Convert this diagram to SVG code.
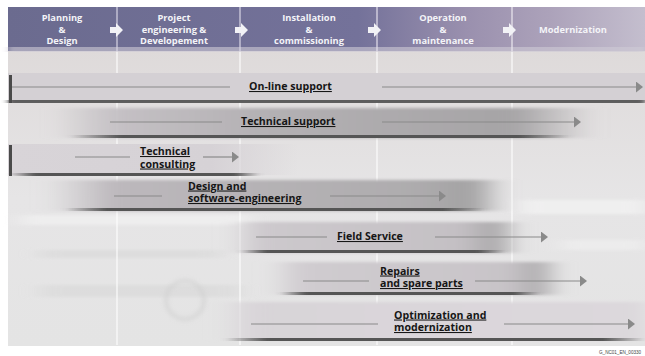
<svg xmlns="http://www.w3.org/2000/svg" width="645" height="356" viewBox="0 0 645 356">
<defs>
<style>
.hd{font-family:"Open Sans","Liberation Sans",sans-serif;font-weight:700;font-size:9.3px;fill:#f4f4f8;text-anchor:middle}
.lb{font-family:"Open Sans","Liberation Sans",sans-serif;font-weight:700;font-size:10.6px;fill:#161616;text-decoration:underline}
.ln{stroke:#8a8a8a;stroke-width:1.2;fill:none}
.ar{stroke:#8a8a8a;stroke-width:1.2;fill:none;marker-end:url(#ah)}
.edge{fill:#4a4a4a}
.vl{stroke:#ffffff;stroke-width:2;opacity:0.55}
.harr{fill:#f2f2f6}
.ft{font-family:"Liberation Sans",sans-serif;font-size:4.6px;fill:#444}
</style>
<marker id="ah" markerWidth="8" markerHeight="11" refX="1" refY="5.5" orient="auto" markerUnits="userSpaceOnUse">
<path d="M0,0 L7,5.5 L0,11 Z" fill="#8a8a8a"/>
</marker>
<filter id="bh" x="-20%" y="-50%" width="140%" height="200%"><feGaussianBlur stdDeviation="10 1.5"/></filter>
<filter id="bs" x="-10%" y="-50%" width="120%" height="200%"><feGaussianBlur stdDeviation="3 0.7"/></filter>
<filter id="bw" x="-30%" y="-30%" width="160%" height="160%"><feGaussianBlur stdDeviation="2"/></filter>
<linearGradient id="hdr" x1="0" y1="0" x2="1" y2="0">
<stop offset="0" stop-color="#6b6b8f"/>
<stop offset="0.55" stop-color="#74729a"/>
<stop offset="0.72" stop-color="#9a90ae"/>
<stop offset="0.85" stop-color="#aca2ba"/>
<stop offset="1" stop-color="#c4bece"/>
</linearGradient>
<linearGradient id="bg" x1="0" y1="0" x2="0" y2="1">
<stop offset="0" stop-color="#dedada"/>
<stop offset="0.5" stop-color="#e6e5e6"/>
<stop offset="1" stop-color="#e4e4e4"/>
</linearGradient>
<linearGradient id="g2" x1="0" y1="0" x2="1" y2="0">
<stop offset="0" stop-color="#bdb9bd" stop-opacity="0"/>
<stop offset="0.12" stop-color="#c4c0c4"/>
<stop offset="0.4" stop-color="#b3b0b3"/>
<stop offset="0.85" stop-color="#a6a4a6"/>
<stop offset="1" stop-color="#a6a4a6" stop-opacity="0"/>
</linearGradient>
<linearGradient id="g3" x1="0" y1="0" x2="1" y2="0">
<stop offset="0" stop-color="#d8d4d8"/>
<stop offset="0.7" stop-color="#d6d2d6"/>
<stop offset="1" stop-color="#d6d2d6" stop-opacity="0"/>
</linearGradient>
<linearGradient id="g4" x1="0" y1="0" x2="1" y2="0">
<stop offset="0" stop-color="#c2bec2" stop-opacity="0"/>
<stop offset="0.15" stop-color="#bcb8bc"/>
<stop offset="0.8" stop-color="#aeacae"/>
<stop offset="0.93" stop-color="#a3a2a3"/>
<stop offset="1" stop-color="#a3a2a3" stop-opacity="0"/>
</linearGradient>
<linearGradient id="g5" x1="0" y1="0" x2="1" y2="0">
<stop offset="0" stop-color="#cfcbcf" stop-opacity="0"/>
<stop offset="0.1" stop-color="#cdc9cd"/>
<stop offset="0.8" stop-color="#c4c0c4"/>
<stop offset="0.92" stop-color="#a9a7a9"/>
<stop offset="1" stop-color="#a9a7a9" stop-opacity="0"/>
</linearGradient>
<linearGradient id="g6" x1="0" y1="0" x2="1" y2="0">
<stop offset="0" stop-color="#d2ced2" stop-opacity="0"/>
<stop offset="0.1" stop-color="#d0ccd0"/>
<stop offset="0.82" stop-color="#c8c4c8"/>
<stop offset="0.93" stop-color="#aeacae"/>
<stop offset="1" stop-color="#aeacae" stop-opacity="0"/>
</linearGradient>
<linearGradient id="g7" x1="0" y1="0" x2="1" y2="0">
<stop offset="0" stop-color="#d8d4d8" stop-opacity="0"/>
<stop offset="0.08" stop-color="#d8d4d8"/>
<stop offset="1" stop-color="#dcd8dc"/>
</linearGradient>
<linearGradient id="sh" x1="0" y1="0" x2="1" y2="0">
<stop offset="0" stop-color="#555" stop-opacity="0"/>
<stop offset="0.1" stop-color="#555"/>
<stop offset="0.9" stop-color="#555"/>
<stop offset="1" stop-color="#555" stop-opacity="0"/>
</linearGradient>
</defs>

<!-- background -->
<rect x="0" y="0" width="645" height="356" fill="#ffffff"/>
<rect x="8" y="50" width="637" height="296" fill="url(#bg)"/>
<g filter="url(#bh)" opacity="0.7">
<rect x="20" y="215" width="230" height="10" fill="#f2f2f2"/>
<rect x="40" y="250" width="180" height="8" fill="#dadada"/>
<rect x="40" y="285" width="200" height="12" fill="#dadada"/>
<rect x="520" y="200" width="125" height="14" fill="#f4f4f4"/>
<rect x="560" y="240" width="85" height="10" fill="#f0f0f0"/>
</g>
<circle cx="185" cy="300" r="19" fill="none" stroke="#cfcfcf" stroke-width="4" filter="url(#bw)" opacity="0.6"/>
<g>
<line class="vl" x1="117" y1="50" x2="117" y2="345"/>
<line class="vl" x1="240" y1="50" x2="240" y2="345"/>
<line class="vl" x1="377" y1="50" x2="377" y2="345"/>
<line class="vl" x1="512" y1="50" x2="512" y2="345"/>
</g>

<!-- header -->
<g id="header">
<rect x="8" y="7" width="637" height="44" fill="url(#hdr)"/>
<rect x="8" y="47" width="637" height="5" fill="#cfcbd6" opacity="0.6" filter="url(#bs)"/>
<line x1="117" y1="7" x2="117" y2="51" stroke="#d8d6e4" stroke-width="1.5" opacity="0.8"/>
<line x1="240" y1="7" x2="240" y2="51" stroke="#d8d6e4" stroke-width="1.5" opacity="0.8"/>
<line x1="377" y1="7" x2="377" y2="51" stroke="#e4e0ec" stroke-width="1.5" opacity="0.8"/>
<line x1="512" y1="7" x2="512" y2="51" stroke="#ece8f0" stroke-width="1.5" opacity="0.8"/>
<path class="harr" d="M110,27 h6 v-4 l7,7 l-7,7 v-4 h-6 z"/>
<path class="harr" d="M235,27 h6 v-4 l7,7 l-7,7 v-4 h-6 z"/>
<path class="harr" d="M368,27 h6 v-4 l7,7 l-7,7 v-4 h-6 z"/>
<path class="harr" d="M503,27 h6 v-4 l7,7 l-7,7 v-4 h-6 z"/>
<g id="phase-planning"><text class="hd" x="62" y="21">Planning</text><text class="hd" x="62" y="32.5">&amp;</text><text class="hd" x="62" y="44">Design</text></g>
<g id="phase-project"><text class="hd" x="174" y="21">Project</text><text class="hd" x="174" y="32.5">engineering &amp;</text><text class="hd" x="174" y="44">Developement</text></g>
<g id="phase-installation"><text class="hd" x="309" y="21">Installation</text><text class="hd" x="309" y="32.5">&amp;</text><text class="hd" x="309" y="44">commissioning</text></g>
<g id="phase-operation"><text class="hd" x="443" y="21">Operation</text><text class="hd" x="443" y="32.5">&amp;</text><text class="hd" x="443" y="44">maintenance</text></g>
<g id="phase-modernization"><text class="hd" x="573" y="33">Modernization</text></g>
</g>

<!-- bars -->
<g id="online-support">
<rect x="8" y="73" width="637" height="29" fill="#d4d0d4"/>
<rect x="8" y="100" width="637" height="3" class="edge" opacity="0.85" filter="url(#bs)"/>
<rect x="9" y="75" width="3" height="28" class="edge"/>
<text class="lb" x="249" y="90">On-line support</text>
</g>
<g id="technical-support">
<rect x="55" y="108" width="540" height="30" fill="url(#g2)" filter="url(#bh)"/>
<rect x="70" y="135" width="500" height="3" fill="url(#sh)" filter="url(#bs)"/>
<text class="lb" x="241" y="125">Technical support</text>
</g>
<g id="technical-consulting">
<rect x="8" y="144" width="290" height="31" fill="url(#g3)"/>
<rect x="10" y="173" width="250" height="3" fill="url(#sh)" filter="url(#bs)"/>
<rect x="9" y="145" width="3" height="31" class="edge"/>
<text class="lb" x="140" y="155">Technical</text>
<text class="lb" x="140" y="167.5">consulting</text>
</g>
<g id="design-software">
<rect x="45" y="180" width="460" height="31" fill="url(#g4)" filter="url(#bh)"/>
<rect x="65" y="208" width="420" height="3" fill="url(#sh)" filter="url(#bs)"/>
<text class="lb" x="188" y="189.5">Design and</text>
<text class="lb" x="188" y="202">software-engineering</text>
</g>
<g id="field-service">
<rect x="230" y="222" width="290" height="31" fill="url(#g5)" filter="url(#bh)"/>
<rect x="240" y="250" width="265" height="3" fill="url(#sh)" filter="url(#bs)"/>
<text class="lb" x="337" y="240">Field Service</text>
</g>
<g id="repairs">
<rect x="270" y="262" width="290" height="33" fill="url(#g6)" filter="url(#bh)"/>
<rect x="280" y="292" width="260" height="3" fill="url(#sh)" filter="url(#bs)"/>
<text class="lb" x="380" y="274.5">Repairs</text>
<text class="lb" x="380" y="287">and spare parts</text>
</g>
<g id="optimization">
<rect x="220" y="302" width="425" height="38" fill="url(#g7)" filter="url(#bh)"/>
<rect x="225" y="338" width="420" height="3" fill="url(#sh)" filter="url(#bs)"/>
<text class="lb" x="394" y="318.5">Optimization and</text>
<text class="lb" x="394" y="331">modernization</text>
</g>

<!-- connectors -->
<g id="connectors">
<line class="ln" x1="12" y1="87" x2="230" y2="87"/>
<line class="ar" x1="382" y1="87" x2="637" y2="87"/>
<line class="ln" x1="110" y1="122" x2="222" y2="122"/>
<line class="ar" x1="382" y1="122" x2="575" y2="122"/>
<line class="ln" x1="75" y1="157" x2="130" y2="157"/>
<line class="ar" x1="203" y1="157" x2="233" y2="157"/>
<line class="ln" x1="114" y1="196" x2="162" y2="196"/>
<line class="ar" x1="330" y1="196" x2="440" y2="196"/>
<line class="ln" x1="256" y1="237" x2="327" y2="237"/>
<line class="ar" x1="435" y1="237" x2="542" y2="237"/>
<line class="ln" x1="303" y1="281" x2="369" y2="281"/>
<line class="ar" x1="475" y1="281" x2="581" y2="281"/>
<line class="ln" x1="251" y1="324" x2="378" y2="324"/>
<line class="ar" x1="504" y1="324" x2="629" y2="324"/>
</g>

<text class="ft" x="599" y="354">G_NC01_EN_00330</text>
</svg>
